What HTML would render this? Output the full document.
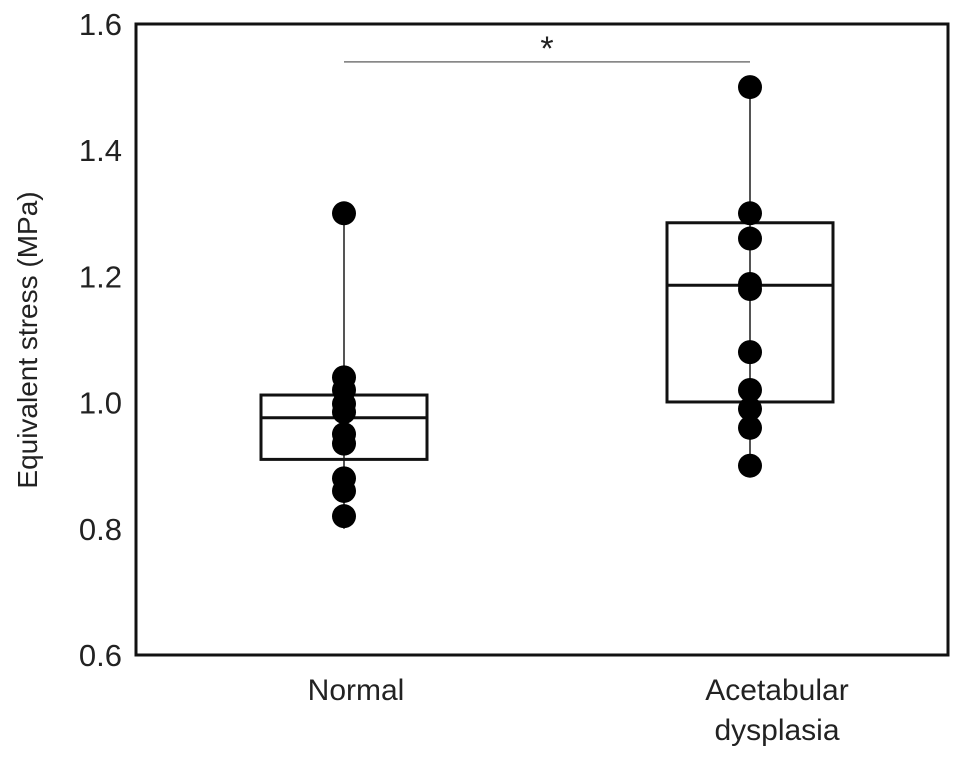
<!DOCTYPE html>
<html><head><meta charset="utf-8"><style>
body{margin:0;background:#fff}
svg text{font-family:"Liberation Sans",sans-serif;fill:#222}
</style></head><body>
<svg width="969" height="759">
<g id="plot"></g>
</svg>
<script>
const categories=["Normal","Acetabular dysplasia"];
const boxQ1=[0.91,1.001];
const boxMedian=[0.976,1.186];
const boxQ3=[1.012,1.285];
const whiskerMin=[0.80,0.89];
const whiskerMax=[1.30,1.50];
const pointsNormal=[1.30,1.04,1.02,0.998,0.985,0.95,0.935,0.88,0.86,0.82];
const pointsDysplasia=[1.50,1.30,1.26,1.188,1.18,1.08,1.02,0.99,0.96,0.90];
const yTicks=[0.6,0.8,1.0,1.2,1.4,1.6];
const yTickLabels=["0.6","0.8","1.0","1.2","1.4","1.6"];
const sigValue=1.54;

const L=136,R=948,T=24,B=655,ymin=0.6,ymax=1.6;
const catX=[344,750], boxHalf=[83,83];
const y=v=>B-(v-ymin)/(ymax-ymin)*(B-T);
const x=i=>catX[i];
const ns="http://www.w3.org/2000/svg";
const g=document.getElementById('plot');
function mk(t,a,p){const e=document.createElementNS(ns,t);for(const k in a)e.setAttribute(k,a[k]);(p||g).appendChild(e);return e;}

const frame=mk('rect',{x:L,y:T,width:R-L,height:B-T,fill:'none',stroke:'#111','stroke-width':3});



yTicks.forEach((v,i)=>{const t=mk('text',{x:122,y:y(v)+11,'text-anchor':'end','font-size':31});t.textContent=yTickLabels[i];

});

const yt=mk('text',{x:0,y:0,transform:'translate(37,340) rotate(-90)','text-anchor':'middle','font-size':28});
yt.textContent='Equivalent stress (MPa)';



const l1=mk('text',{x:356,y:700,'text-anchor':'middle','font-size':30});l1.textContent='Normal';


const l2=mk('text',{x:777,y:700,'text-anchor':'middle','font-size':30});l2.textContent='Acetabular';


const l3=mk('text',{x:777,y:740,'text-anchor':'middle','font-size':30});l3.textContent='dysplasia';



const pts=[pointsNormal,pointsDysplasia];
categories.forEach((c,i)=>{
 const w=mk('line',{x1:x(i),x2:x(i),y1:y(whiskerMin[i]),y2:y(whiskerMax[i]),stroke:'#555','stroke-width':2});
 
 
 const b=mk('rect',{x:x(i)-boxHalf[i],y:y(boxQ3[i]),width:2*boxHalf[i],height:y(boxQ1[i])-y(boxQ3[i]),fill:'none',stroke:'#111','stroke-width':3});
 
 
 const m=mk('line',{x1:x(i)-boxHalf[i],x2:x(i)+boxHalf[i],y1:y(boxMedian[i]),y2:y(boxMedian[i]),stroke:'#111','stroke-width':3});
 
 
 pts[i].forEach(v=>{const p=mk('circle',{cx:x(i),cy:y(v),r:12,fill:'#000'});
  
  });
});
const s=mk('line',{x1:x(0),x2:x(1),y1:y(sigValue),y2:y(sigValue),stroke:'#777','stroke-width':1.5});


const st=mk('text',{x:(x(0)+x(1))/2,y:y(sigValue)-2,'text-anchor':'middle','font-size':34});st.textContent='*';


</script>
</body></html>
